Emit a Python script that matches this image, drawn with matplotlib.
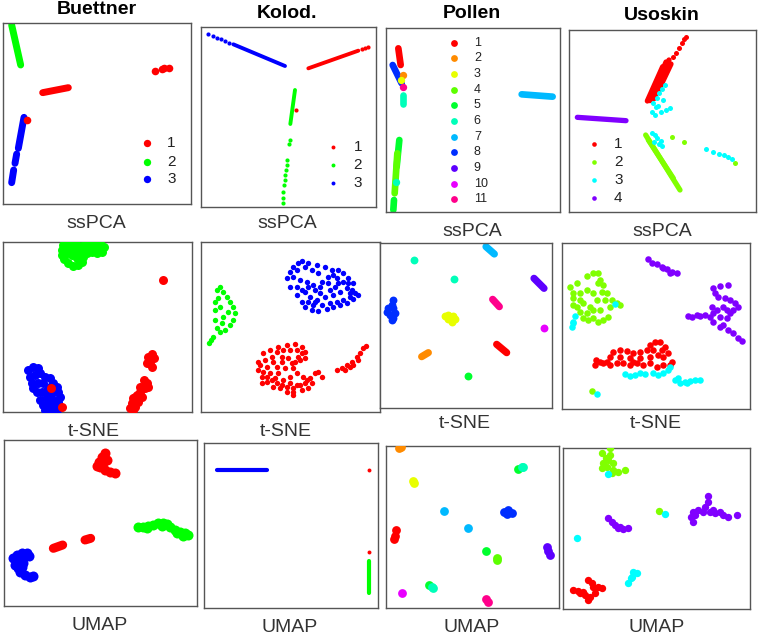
import matplotlib
matplotlib.use('Agg')
from matplotlib import pyplot as plt

plt.rcParams['font.family'] = ['Liberation Sans', 'DejaVu Sans']

# colour palettes (R rainbow())
rainbow3 = ['#FF0000', '#00FF00', '#0000FF']
rainbow4 = ['#FF0000', '#80FF00', '#00FFFF', '#8000FF']
rainbow11 = ['#FF0000', '#FF8B00', '#E8FF00', '#5DFF00', '#00FF2E', '#00FFB9',
             '#00B9FF', '#002EFF', '#5D00FF', '#E800FF', '#FF008B']

datasets = ['Buettner', 'Kolod.', 'Pollen', 'Usoskin']
methods = ['ssPCA', 't-SNE', 'UMAP']

# each cluster: (class, kind, xs, ys); coordinates
buettner_pca = [
    (2, 'line', [35, 62], [75, 195]),
    (1, 'line', [128, 205], [278, 263]),
    (1, 'dots', [465, 485, 493, 508], [212, 207, 205, 203]),
    (1, 'dots', [82], [360]),
    (3, 'line', [72, 55], [352, 445]),
    (3, 'line', [50, 45], [462, 490]),
    (3, 'line', [41, 35], [510, 548]),
]
kolod_pca = [
    (3, 'line', [700, 855], [133, 198]),
    (3, 'dots', [625, 640, 652, 663, 675, 688], [102, 108, 113, 118, 123, 128]),
    (1, 'line', [925, 1075], [205, 152]),
    (1, 'dots', [1085, 1095, 1103], [148, 145, 142]),
    (2, 'line', [885, 871], [270, 372]),
    (2, 'dots', [870, 868, 862, 860, 858, 856, 854, 852, 850, 849, 848],
     [420, 432, 480, 495, 510, 525, 540, 555, 575, 595, 610]),
    (1, 'dots', [888], [330]),
]
pollen_pca = [
    (1, 'line', [55, 62], [145, 195]),
    (8, 'line', [38, 65], [195, 250]),
    (2, 'dots', [68], [225]),
    (3, 'dots', [64], [240]),
    (11, 'dots', [70], [260]),
    (6, 'line', [68, 68], [285, 312]),
    (7, 'line', [425, 518], [283, 290]),
    (5, 'line', [58, 50], [420, 500]),
    (4, 'line', [52, 44], [460, 580]),
    (6, 'dots', [48], [545]),
    (5, 'line', [42, 40], [600, 630]),
]
usoskin_pca = [
    (1, 'line', [802, 848], [303, 200]),
    (1, 'line', [810, 858], [302, 186]),
    (1, 'line', [822, 867], [296, 180]),
    (1, 'line', [835, 873], [272, 192]),
    (1, 'dots', [878, 888, 898, 906, 912, 918], [170, 158, 145, 130, 118, 110]),
    (3, 'dots', [855, 845, 838, 830, 820, 815, 825, 842, 858, 870, 850, 835, 828],
     [255, 268, 280, 295, 308, 335, 345, 335, 330, 325, 300, 318, 322]),
    (4, 'line', [592, 738], [352, 362]),
    (2, 'line', [797, 900], [405, 570]),
    (2, 'line', [805, 880], [420, 535]),
    (2, 'dots', [875, 912, 1065], [412, 425, 490]),
    (3, 'dots', [815, 825, 832, 842, 847, 838, 822], [400, 405, 415, 422, 438, 432, 425]),
    (3, 'dots', [978, 998, 1018, 1032, 1045, 1055], [448, 457, 463, 466, 470, 476]),
]

buettner_tsne = [
    (2, 'dots', [185, 190, 200, 215, 230, 245, 255, 270, 285, 300, 312, 305, 290, 275, 262, 250,
                 245, 235, 220, 205, 192, 185, 200, 215, 230, 240, 225, 210, 280, 295, 258, 270],
     [120, 105, 97, 100, 105, 112, 100, 95, 93, 100, 110, 125, 128, 125, 130, 140,
      155, 165, 168, 160, 148, 135, 130, 135, 145, 128, 120, 115, 108, 115, 120, 112]),
    (1, 'dots', [490], [210]),
    (1, 'dots', [445, 455, 462, 450, 440, 455, 448], [440, 432, 445, 455, 460, 470, 448]),
    (1, 'dots', [432, 440, 435, 420, 410, 400, 395, 390, 405, 415, 425, 420, 445, 405, 398],
     [510, 520, 535, 545, 555, 565, 580, 595, 590, 575, 560, 530, 530, 560, 600]),
    (3, 'dots', [85, 100, 115, 90, 105, 120, 135, 150, 160, 170, 175, 180, 175, 165, 150, 135,
                 130, 145, 160, 155, 140, 125, 110, 100, 95, 115, 130, 150, 120, 140, 170],
     [480, 470, 475, 500, 495, 490, 500, 505, 520, 530, 545, 560, 575, 590, 600, 600,
      585, 580, 570, 550, 540, 545, 545, 535, 520, 520, 520, 530, 570, 560, 600]),
    (1, 'dots', [152, 186], [533, 590]),
]
kolod_tsne = [
    (3, 'dots', [905, 925, 950, 975, 995, 1015, 1030, 1045, 1060, 1075, 1060, 1040, 1020, 1000,
                 980, 955, 935, 915, 905, 890, 870, 862, 870, 880, 895, 900, 920, 940, 960, 985,
                 1005, 1020, 1000, 975, 950, 930, 915, 985, 1010, 1040, 960, 940, 1050,
                 890, 905, 925, 945, 965, 990, 1015, 1030, 1045, 1055, 1065, 1030, 1010, 990,
                 965, 945, 925, 880, 890, 1000, 955, 935, 915, 1050],
     [152, 158, 165, 172, 180, 180, 190, 205, 220, 255, 268, 280, 285, 290, 297, 303, 300, 290,
      275, 255, 230, 205, 185, 170, 158, 210, 215, 225, 230, 220, 230, 245, 255, 260, 270, 260,
      245, 200, 205, 235, 250, 285, 250,
      230, 240, 230, 240, 215, 240, 220, 215, 220, 240, 250, 270, 275, 280,
      285, 275, 275, 200, 180, 195, 190, 180, 170, 260]),
    (2, 'dots', [650, 660, 670, 680, 690, 700, 705, 700, 690, 675, 660, 650, 645, 645, 645, 660,
                 670, 685, 665, 640, 632, 628, 655],
     [240, 232, 245, 260, 275, 290, 310, 330, 345, 360, 365, 355, 330, 300, 275, 290, 320, 305,
      340, 380, 390, 400, 265]),
    (1, 'dots', [775, 790, 810, 835, 860, 885, 905, 915, 915, 900, 885, 880, 890, 910, 930, 935,
                 925, 905, 880, 860, 840, 820, 800, 785, 775, 800, 820, 845, 865, 855, 835, 825,
                 870, 890, 850, 810, 880, 955, 965, 945,
                 780, 795, 815, 830, 850, 870, 890, 905, 895, 790, 800, 815, 830, 845, 860,
                 880, 900, 915, 920, 870, 845, 830, 875, 785],
     [455, 430, 420, 412, 405, 402, 410, 425, 445, 450, 455, 475, 490, 500, 505, 520, 535, 540,
      545, 545, 535, 530, 515, 500, 480, 470, 455, 440, 445, 475, 490, 505, 520, 525, 510, 490,
      555, 485, 500, 490,
      465, 450, 440, 425, 420, 420, 420, 430, 440, 485, 500, 510, 520, 525, 530,
      535, 525, 520, 510, 500, 455, 470, 460, 520]),
    (1, 'dots', [1010, 1025, 1040, 1055, 1070, 1080, 1090, 1097, 1035, 1060, 1075, 1050],
     [480, 475, 465, 455, 440, 430, 415, 407, 480, 465, 450, 470]),
]
pollen_tsne = [
    (7, 'line', [318, 343], [110, 132]),
    (6, 'dots', [103, 222], [150, 208]),
    (9, 'line', [462, 492], [205, 235]),
    (8, 'dots', [38, 35, 25, 22, 30, 40, 45, 40, 35], [270, 285, 295, 305, 315, 325, 310, 295, 330]),
    (11, 'line', [338, 358], [268, 290]),
    (3, 'dots', [195, 205, 215, 225, 215, 205, 220], [318, 315, 320, 328, 335, 328, 318]),
    (10, 'dots', [492], [355]),
    (1, 'line', [350, 380], [403, 428]),
    (2, 'line', [125, 145], [440, 428]),
    (5, 'dots', [265], [498]),
]
usoskin_tsne = [
    (4, 'dots', [803, 815, 830, 845, 860, 875, 890, 850, 870], [148, 158, 163, 170, 178, 185, 190, 175, 188]),
    (2, 'dots', [570, 590, 620, 640, 655, 660, 668, 665, 680, 695, 690, 685, 670, 655, 640, 625,
                 610, 600, 590, 580, 578, 600, 620, 640, 650, 630, 610, 600, 660, 640, 620, 710,
                 720, 655, 675, 580],
     [230, 220, 198, 190, 190, 210, 225, 245, 250, 270, 290, 320, 330, 335, 325, 330, 325, 305,
      290, 285, 265, 250, 240, 250, 270, 290, 280, 270, 300, 300, 310, 280, 285, 220, 270, 250]),
    (3, 'dots', [705, 585, 578, 575, 580], [282, 318, 335, 350, 340]),
    (4, 'dots', [1000, 1020, 1045, 1005, 1015, 1035, 1050, 1065, 1075, 1060, 1050, 1040, 1030,
                 1045, 1060, 1075, 1085, 990, 975, 960, 935, 925, 950, 1000, 1020, 1010, 995, 1030,
                 1000, 1020, 1040],
     [235, 228, 225, 250, 262, 265, 270, 280, 290, 300, 310, 325, 345, 360, 370, 385, 393, 320,
      315, 318, 320, 318, 315, 310, 320, 300, 290, 290, 335, 350, 300]),
    (1, 'dots', [648, 645, 660, 680, 700, 720, 740, 760, 780, 800, 810, 825, 840, 855, 865, 875,
                 870, 850, 830, 810, 790, 770, 750, 730, 710, 690, 670, 690, 720, 750, 780, 810,
                 835, 850, 820, 845, 760],
     [450, 465, 455, 455, 425, 420, 423, 430, 425, 420, 405, 395, 395, 410, 430, 455, 465, 465,
      470, 460, 465, 460, 465, 460, 460, 465, 460, 440, 440, 445, 445, 440, 435, 440, 420, 420, 455]),
    (3, 'dots', [735, 750, 765, 780, 795, 820, 835, 850, 865, 870, 885, 900, 915, 930, 945, 960, 895, 920],
     [493, 497, 495, 490, 492, 490, 495, 490, 480, 470, 510, 520, 515, 512, 510, 510, 505, 520]),
    (2, 'dots', [637], [542]),
    (3, 'dots', [652], [552]),
]

buettner_umap = [
    (1, 'dots', [315, 305, 298, 290, 300, 315, 330, 345, 320, 310], [70, 80, 95, 108, 110, 120, 125, 130, 90, 100]),
    (2, 'dots', [415, 430, 445, 460, 475, 490, 500, 510, 525, 540, 555, 565, 550, 530, 440, 485],
     [290, 292, 288, 285, 280, 278, 283, 292, 300, 305, 310, 315, 318, 308, 295, 287]),
    (1, 'line', [160, 188], [355, 345]),
    (1, 'line', [255, 272], [330, 325]),
    (3, 'dots', [40, 50, 65, 80, 88, 70, 55, 45, 55, 65, 60, 75, 90, 100, 70, 50],
     [385, 375, 368, 368, 378, 385, 395, 405, 415, 410, 425, 435, 440, 438, 400, 390]),
]
kolod_umap = [
    (3, 'line', [652, 800], [121, 121]),
    (1, 'dots', [1107, 1107], [121, 365]),
    (2, 'line', [1107, 1107], [392, 490]),
]
pollen_umap = [
    (2, 'dots', [58, 62], [55, 50]),
    (3, 'dots', [98, 103], [152, 158]),
    (5, 'dots', [415], [118]),
    (6, 'dots', [425, 428], [110, 112]),
    (7, 'dots', [192, 265], [242, 295]),
    (8, 'dots', [372, 385, 395, 380], [245, 240, 250, 252]),
    (1, 'dots', [48, 45, 42], [300, 318, 328]),
    (5, 'dots', [318], [362]),
    (4, 'dots', [350, 352], [385, 390]),
    (9, 'dots', [500, 505, 510], [350, 362, 375]),
    (5, 'dots', [148], [466]),
    (6, 'dots', [155, 158], [472, 475]),
    (10, 'dots', [66], [490]),
    (11, 'dots', [318, 325], [507, 515]),
]
usoskin_umap = [
    (2, 'dots', [665, 690, 690, 685, 670, 665, 680, 700, 715, 735, 700, 695, 678],
     [70, 55, 75, 90, 100, 115, 110, 120, 125, 120, 100, 130, 85]),
    (3, 'dots', [683], [132]),
    (4, 'dots', [685, 695, 705, 715, 730, 745, 720], [265, 275, 285, 295, 298, 295, 290]),
    (2, 'dots', [838], [242]),
    (3, 'dots', [856], [253]),
    (4, 'dots', [985, 985, 975, 955, 940, 932, 945, 970, 990, 1005, 1020, 1030, 1045, 1070, 1000, 940],
     [198, 215, 230, 240, 245, 262, 255, 245, 245, 248, 245, 255, 262, 255, 240, 275]),
    (3, 'dots', [590], [325]),
    (3, 'dots', [745, 752, 760, 770, 755], [460, 445, 425, 430, 440]),
    (1, 'dots', [578, 595, 610, 625, 635, 640, 655, 665, 645, 630, 615, 625, 600],
     [480, 482, 485, 450, 460, 470, 470, 475, 490, 500, 495, 510, 490]),
]

# panel layout: data, palette, marker size, chain width, crop origin (px), x/y extent
panels = [
    (buettner_pca, rainbow3, 30, 5.0, (0, 0), (10, 572), (70, 612)),
    (kolod_pca, rainbow3, 9, 2.8, (0, 0), (602, 1128), (80, 620)),
    (pollen_pca, rainbow11, 28, 4.8, (380, 0), (18, 540), (83, 635)),
    (usoskin_pca, rainbow4, 13, 3.8, (380, 0), (568, 1127), (90, 637)),
    (buettner_tsne, rainbow3, 42, 5.0, (0, 210), (10, 577), (95, 607)),
    (kolod_tsne, rainbow3, 15, 3.0, (0, 210), (602, 1140), (95, 605)),
    (pollen_tsne, rainbow11, 32, 5.2, (380, 210), (0, 517), (100, 595)),
    (usoskin_tsne, rainbow4, 22, 3.8, (380, 210), (545, 1110), (100, 598)),
    (buettner_umap, rainbow3, 52, 6.5, (0, 430), (12, 590), (30, 527)),
    (kolod_umap, rainbow3, 8, 3.0, (0, 430), (613, 1133), (38, 535)),
    (pollen_umap, rainbow11, 40, 5.0, (380, 430), (18, 538), (47, 533)),
    (usoskin_umap, rainbow4, 28, 4.3, (380, 430), (550, 1110), (55, 538)),
]

W, H = 758, 638
Z = 3.0
fig = plt.figure(figsize=(W / 100, H / 100), dpi=100)

axes = []
for data, pal, size, lw, (ox, oy), (x0, x1), (y0, y1) in panels:
    left = ox + x0 / Z
    right = ox + x1 / Z
    top = oy + y0 / Z
    bottom = oy + y1 / Z
    ax = fig.add_axes([left / W, 1 - bottom / H, (right - left) / W, (bottom - top) / H])
    for cls, kind, xs, ys in data:
        c = pal[cls - 1]
        if kind == 'line':
            ax.plot(xs, ys, color=c, lw=lw, solid_capstyle='round', zorder=2)
        else:
            ax.scatter(xs, ys, s=size, color=c, linewidths=0, zorder=3)
    ax.set_xlim(x0, x1)
    ax.set_ylim(y1, y0)
    ax.set_xticks([])
    ax.set_yticks([])
    for sp in ax.spines.values():
        sp.set_color('#555555')
        sp.set_linewidth(1.0)
    axes.append(ax)


def legend(ax, pal, mx, tx, ys, s, fs):
    for i, y in enumerate(ys):
        ax.scatter([mx], [y], s=s, color=pal[i], linewidths=0, transform=ax.transAxes, clip_on=False)
        ax.text(tx, y, str(i + 1), transform=ax.transAxes, va='center', ha='left',
                fontsize=fs, color='#222222')


legend(axes[0], rainbow3, 0.765, 0.875, [0.336, 0.234, 0.137], 28, 11)
legend(axes[1], rainbow3, 0.757, 0.872, [0.333, 0.231, 0.130], 8, 11)
legend(axes[2], rainbow11, 0.39, 0.505, [0.918 - i * 0.0851 for i in range(11)], 24, 9)
legend(axes[3], rainbow4, 0.134, 0.24, [0.375, 0.274, 0.177, 0.080], 11, 11)

# titles (dataset names) and method labels
title_pos = [(97, 9), (287, 13), (472, 13), (662, 15)]
for name, (x, y) in zip(datasets, title_pos):
    fig.text(x / W, 1 - y / H, name, ha='center', va='center', fontsize=14,
             fontweight='bold', color='black')

label_pos = [
    [(96, 223), (287, 223), (472, 232), (662, 232)],
    [(94, 432), (286, 432), (465, 423), (656, 423)],
    [(100, 625), (290, 627), (472, 627), (657, 628)],
]
for method, row in zip(methods, label_pos):
    for x, y in row:
        fig.text(x / W, 1 - y / H, method, ha='center', va='center', fontsize=14,
                 color='#333333')

fig.savefig('out.png', dpi=100)
